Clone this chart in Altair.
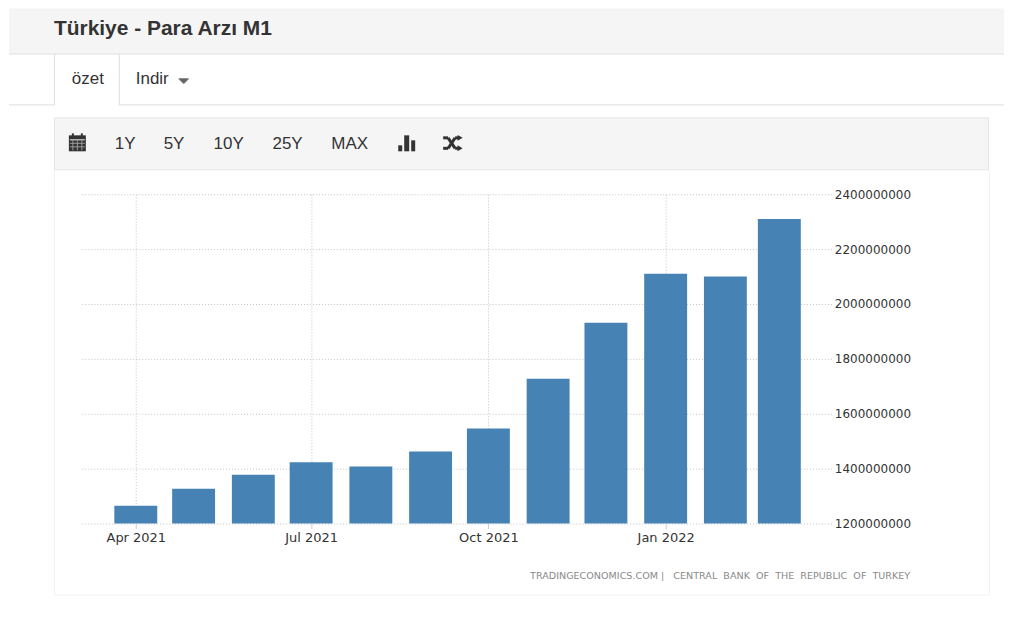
import altair as alt
import pandas as pd

dates = ["2021-04-01", "2021-05-01", "2021-06-01", "2021-07-01", "2021-08-01", "2021-09-01",
         "2021-10-01", "2021-11-01", "2021-12-01", "2022-01-01", "2022-02-01", "2022-03-01"]
values = [1265000000, 1327000000, 1378000000, 1423000000, 1408000000, 1463000000,
          1546000000, 1728000000, 1932000000, 2110000000, 2100000000, 2310000000]
y_ticks = [1200000000, 1400000000, 1600000000, 1800000000, 2000000000, 2200000000, 2400000000]
title_text = "Türkiye - Para Arzı M1"
range_buttons = [("1Y", 114), ("5Y", 163), ("10Y", 213), ("25Y", 272), ("MAX", 331)]
source_text = ("TRADINGECONOMICS.COM\u00a0|\u00a0\u00a0\u00a0CENTRAL\u00a0\u00a0BANK\u00a0\u00a0OF\u00a0\u00a0THE"
               "\u00a0\u00a0REPUBLIC\u00a0\u00a0OF\u00a0\u00a0TURKEY")

# the plot area's top-left corner in page pixels
OX, OY = 81, 194
PW, PH = 751, 330
one = alt.Data(values=[{}])


def rect(x0, y0, x1, y1, color, **kw):
    return alt.Chart(one).mark_rect(color=color, **kw).encode(
        x=alt.value(x0 - OX), x2=alt.value(x1 - OX), y=alt.value(y0 - OY), y2=alt.value(y1 - OY))


def seg(x0, y0, x1, y1, color, w=1):
    return alt.Chart(one).mark_rule(color=color, strokeWidth=w).encode(
        x=alt.value(x0 - OX), x2=alt.value(x1 - OX), y=alt.value(y0 - OY), y2=alt.value(y1 - OY))


def label(x, y, s, size=17, color="#333333", font="Liberation Sans", align="left", **kw):
    return alt.Chart(one).mark_text(text=s, fontSize=size, color=color, font=font, align=align,
                                    baseline="middle", **kw).encode(
        x=alt.value(x - OX), y=alt.value(y - OY))


def tri(x, y, shape, size, color="#333333"):
    return alt.Chart(one).mark_point(shape=shape, size=size, filled=True, color=color, opacity=1).encode(
        x=alt.value(x - OX), y=alt.value(y - OY))


decor = [
    rect(8, 8, 1005, 53, "#f5f5f5"),
    seg(8, 53.5, 1005, 53.5, "#dddddd"),
    seg(8, 104.5, 53, 104.5, "#dddddd"),
    seg(119, 104.5, 1005, 104.5, "#dddddd"),
    seg(53.5, 54, 53.5, 105, "#dddddd"),
    seg(118.5, 54, 118.5, 105, "#dddddd"),
    rect(54, 118, 989, 169, "#f5f5f5"),
    seg(53.5, 117.5, 989.5, 117.5, "#e3e3e3"),
    seg(53.5, 169.5, 989.5, 169.5, "#e3e3e3"),
    seg(53.5, 117.5, 53.5, 169.5, "#e3e3e3"),
    seg(989.5, 117.5, 989.5, 169.5, "#e3e3e3"),
    seg(53.5, 170, 53.5, 595.5, "#f2f2f2"),
    seg(990.5, 170, 990.5, 595.5, "#f2f2f2"),
    seg(53.5, 595.5, 990.5, 595.5, "#f2f2f2"),
    rect(8, 600, 1005, 601, "#ffffff"),
    label(53, 28, title_text, size=21, fontWeight="bold"),
    label(71, 79, "özet"),
    label(135, 79, "Indir"),
    # caret
    rect(178, 78, 188, 79, "#333333"),
    rect(179, 79, 187, 80, "#333333"),
    rect(180, 80, 186, 81, "#333333"),
    rect(181, 81, 185, 82, "#333333"),
    rect(182, 82, 184, 83, "#333333"),
    # calendar icon
    rect(68, 135, 85, 151, "#333333"),
    rect(71, 133, 73, 136, "#333333"),
    rect(80, 133, 82, 136, "#333333"),
    seg(69, 139.5, 84, 139.5, "#f5f5f5"),
    seg(69, 143, 84, 143, "#999999"),
    seg(69, 146.5, 84, 146.5, "#999999"),
    seg(72, 140, 72, 150, "#999999"),
    seg(76.5, 140, 76.5, 150, "#999999"),
    seg(81, 140, 81, 150, "#999999"),
    # bar icon
    rect(398, 145, 402, 151, "#333333"),
    rect(404, 135, 409, 151, "#333333"),
    rect(411, 140, 415, 151, "#333333"),
    # shuffle icon
    seg(443, 137.5, 448, 137.5, "#333333", 3),
    seg(448, 137.5, 455, 148, "#333333", 3),
    seg(455, 148, 460, 148, "#333333", 3),
    seg(443, 148, 448, 148, "#333333", 3),
    seg(448, 148, 455, 137.5, "#333333", 3),
    seg(455, 137.5, 460, 137.5, "#333333", 3),
    tri(460, 137.5, "triangle-right", 35),
    tri(460, 148, "triangle-right", 35),
]
decor += [label(x, 144, s) for s, x in range_buttons]
decor.append(label(911, 577, source_text, size=9.6, color="#8a8a8a", font="DejaVu Sans", align="right"))

df = pd.DataFrame({"date": dates, "value": values})

tick_dates = [alt.DateTime(year=2021, month=4, date=1, utc=True),
              alt.DateTime(year=2021, month=7, date=1, utc=True),
              alt.DateTime(year=2021, month=10, date=1, utc=True),
              alt.DateTime(year=2022, month=1, date=1, utc=True)]

bars = alt.Chart(df).mark_bar(size=43, color="#4682b4").encode(
    x=alt.X("date:T", title=None,
            scale=alt.Scale(type="utc", nice=False, padding=0,
                            domain=[alt.DateTime(year=2021, month=3, date=4, utc=True),
                                    alt.DateTime(year=2022, month=3, date=28, utc=True)]),
            axis=alt.Axis(values=tick_dates, labelExpr="utcFormat(datum.value, '%b %Y')",
                          domain=False, grid=True, gridColor="#c4c4c4", gridDash=[1, 2],
                          tickColor="#cccccc", tickSize=5, labelFont="DejaVu Sans", labelFontSize=13,
                          labelColor="#333333", labelPadding=3, labelFlush=False)),
    y=alt.Y("value:Q", title=None,
            scale=alt.Scale(domain=[y_ticks[0], y_ticks[-1]], zero=False, nice=False, clamp=True),
            axis=alt.Axis(orient="right", values=y_ticks, format="d", domain=False, ticks=False, grid=True,
                          gridColor="#c4c4c4", gridDash=[1, 2], labelFont="DejaVu Sans", labelFontSize=12,
                          labelColor="#333333", labelPadding=3)),
)

chart = alt.layer(*decor, bars).properties(width=PW, height=PH, padding=0).configure_view(stroke=None)

chart.save("out.html", embed_options={"renderer": "svg", "actions": False})
